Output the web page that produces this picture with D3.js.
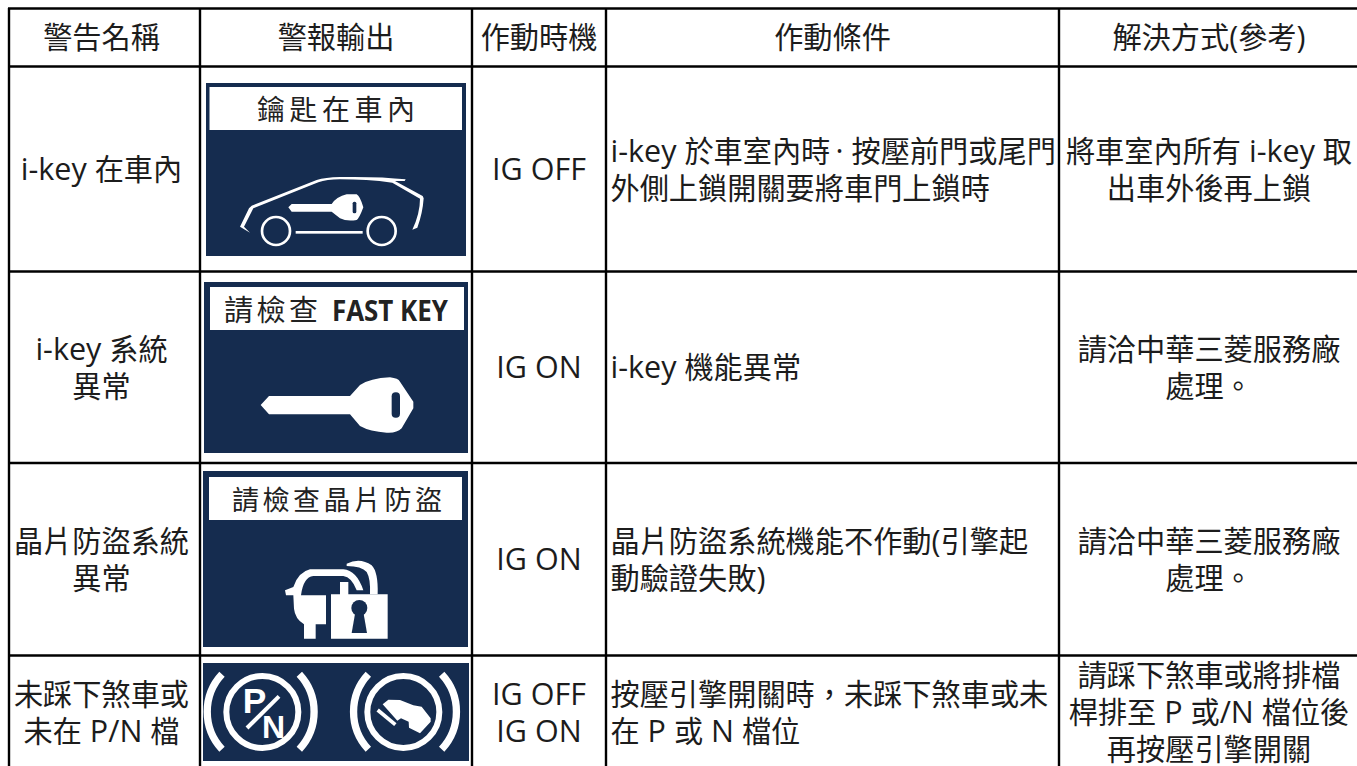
<!DOCTYPE html>
<html lang="zh-TW">
<head>
<meta charset="utf-8">
<script src="https://cdn.jsdelivr.net/npm/d3@7"></script>
<style>
  html, body { margin: 0; padding: 0; background: #fff; overflow: hidden; }
  text { font-family: "Noto Sans CJK TC", sans-serif; }
  tspan.latin { font-family: "Open Sans", sans-serif; font-size: 30.5px; }
</style>
</head>
<body>
<svg width="1357" height="766"></svg>
<script>
// table content
const headers = ["警告名稱", "警報輸出", "作動時機", "作動條件", "解決方式(參考)"];
const warnings = [["i-key 在車內"], ["i-key 系統", "異常"], ["晶片防盜系統", "異常"], ["未踩下煞車或", "未在 P/N 檔"]];
const timings = [["IG OFF"], ["IG ON"], ["IG ON"], ["IG OFF", "IG ON"]];
const conditions = [
  ["i-key 於車室內時\u2009·\u2009\u200a按壓前門或尾門", "外側上鎖開關要將車門上鎖時"],
  ["i-key 機能異常"],
  ["晶片防盜系統機能不作動(引擎起", "動驗證失敗)"],
  ["按壓引擎開關時，未踩下煞車或未", "在 P 或 N 檔位"],
];
const solutions = [
  ["將車室內所有 i-key 取", "出車外後再上鎖"],
  ["請洽中華三菱服務廠", "處理。"],
  ["請洽中華三菱服務廠", "處理。"],
  ["請踩下煞車或將排檔", "桿排至 P 或/N 檔位後", "再按壓引擎開關"],
];
const rowIds = [0, 1, 2, 3];

const NAVY = "#152c4f";
const INK = "#1c1c1c";
const svg = d3.select("svg");

// layout scales, left/top edge of each column and row
const colEdges = [9, 200, 472, 606, 1059, 1359];
const rowEdges = [66.5, 271.5, 463, 655.5, 769];
const xEdge = d3.scaleOrdinal(d3.range(colEdges.length), colEdges);
const yEdge = d3.scaleOrdinal(d3.range(rowEdges.length), rowEdges);
// first column text sits a bit left of the cell center
const colCenter = (i) => (xEdge(i) + xEdge(i + 1)) / 2 - (i === 0 ? 3 : 0);
const rowCenter = (i) => (yEdge(i) + yEdge(i + 1)) / 2;
const LINE_H = 37;
const FONT = 29.2;

// grid
const grid = svg.append("g").attr("stroke", "#000").attr("stroke-width", 2.4);
grid.selectAll(".v").data(colEdges.slice(0, 5)).join("line")
  .attr("x1", (d) => d).attr("x2", (d) => d).attr("y1", 8).attr("y2", 766);
grid.selectAll(".h").data([8.5].concat(rowEdges.slice(0, 4))).join("line")
  .attr("x1", 8).attr("x2", 1357).attr("y1", (d) => d).attr("y2", (d) => d);

// latin runs get their own font and size
function setRuns(sel) {
  sel.each(function (d) {
    d3.select(this).selectAll("tspan").data(d.match(/[\x00-\x7f\u00b7\u2009\u200a]+|[^\x00-\x7f\u00b7\u2009\u200a]+/g)).join("tspan")
      .attr("class", (s) => (/^[\x00-\x7f\u00b7\u2009\u200a]/.test(s) ? "latin" : null))
      .text((s) => s);
  });
}

// header texts
svg.append("g").selectAll("text").data(headers).join("text")
  .attr("x", (d, i) => colCenter(i))
  .attr("y", 48)
  .attr("text-anchor", "middle")
  .attr("font-size", FONT)
  .attr("fill", INK)
  .style("white-space", "pre")
  .call(setRuns);

// one text column, lines stacked around the row center
function textColumn(lines, col, anchor) {
  const x = anchor === "start" ? xEdge(col) + 4.5 : colCenter(col);
  const g = svg.append("g").attr("text-anchor", anchor).attr("font-size", FONT).attr("fill", INK);
  rowIds.forEach((r) => {
    g.selectAll(null).data(lines[r]).join("text")
      .attr("x", x)
      .attr("y", (d, i) => rowCenter(r) + (i - (lines[r].length - 1) / 2) * LINE_H + 11)
      .style("white-space", "pre")
      .call(setRuns);
  });
}
textColumn(warnings, 0, "middle");
textColumn(timings, 2, "middle");
textColumn(conditions, 3, "start");
textColumn(solutions, 4, "middle");

// panel background + white banner
function panel(x, y, w, h) {
  svg.append("rect").attr("x", x).attr("y", y).attr("width", w).attr("height", h).attr("fill", NAVY);
}
function banner(x, y, w, h) {
  svg.append("rect").attr("x", x).attr("y", y).attr("width", w).attr("height", h).attr("fill", "#fff");
}
// icons are traced in 3x crop coordinates, g maps them back
const iconGroup = (x, y) => svg.append("g").attr("transform", `translate(${x},${y}) scale(${1 / 3})`);
const bannerText = (x, y, size, spacing, str) => svg.append("text")
  .attr("x", x).attr("y", y).attr("font-size", size).attr("letter-spacing", spacing)
  .attr("fill", "#222").text(str);

// row 1: car with key
panel(206, 83, 260, 173);
banner(209.5, 87, 252.5, 43);
bannerText(257, 120, 28, 4.5, "鑰匙在車內");
const car = iconGroup(200, 70);
car.append("path").attr("fill", "#fff")
  .attr("d", "M150,488 L120,470 L147,415 L155,407 L350,330 Q375,322 420,321 Q540,319 617,328 L614,333 L585,333 L668,378 L671,385 Q668,430 652,473 L637,479 Q660,430 660,386 L577,338 Q500,328 420,328 Q380,328 355,337 L160,415 L132,470 Z");
car.append("path").attr("fill", "#fff")
  .attr("d", "M265,412 L275,402 L395,402 Q410,380 440,373 L470,373 Q480,378 490,412 Q478,445 470,450 Q440,455 420,445 L395,425 L275,425 Z");
car.append("rect").attr("x", 458).attr("y", 395).attr("width", 11).attr("height", 35).attr("rx", 5).attr("fill", NAVY);
car.selectAll("circle").data([228, 545]).join("circle")
  .attr("cx", (d) => d).attr("cy", 483).attr("r", 42)
  .attr("fill", "none").attr("stroke", "#fff").attr("stroke-width", 8);
car.append("rect").attr("x", 287).attr("y", 483).attr("width", 201).attr("height", 8).attr("fill", "#fff");

// row 2: fast key
panel(204, 282, 264, 171);
banner(210, 287, 254, 43);
bannerText(224, 321, 29, 3.5, "請檢查");
svg.append("text").attr("x", 332).attr("y", 321).attr("font-size", 29).attr("font-weight", 700)
  .attr("textLength", 116).attr("lengthAdjust", "spacingAndGlyphs").attr("fill", "#222")
  .style("font-family", "'Open Sans'").text("FAST KEY");
const key = iconGroup(200, 270);
key.append("path").attr("fill", "#fff")
  .attr("d", "M182,405 L207,378 L450,378 L480,345 Q510,325 570,322 Q595,325 600,335 L640,395 L640,415 L605,475 Q590,490 560,488 Q510,485 480,468 L450,433 L207,433 Z");
key.append("rect").attr("x", 575).attr("y", 367).attr("width", 25).attr("height", 76).attr("rx", 12).attr("fill", NAVY);

// row 3: immobilizer
panel(203, 471, 265, 176);
banner(209, 477, 253, 43);
bannerText(232, 510, 27, 3.5, "請檢查晶片防盜");
const lock = iconGroup(200, 462);
lock.append("path").attr("fill", "#fff")
  .attr("d", "M255,385 L280,375 Q295,330 330,322 L430,322 Q470,325 490,385 L470,385 Q455,345 430,342 L340,342 Q310,345 303,400 L378,400 L378,487 L347,487 L347,530 L312,530 L312,487 Q285,470 282,440 L280,400 L258,400 Z");
lock.append("path").attr("fill", "#fff")
  .attr("d", "M440,305 Q480,285 515,310 Q535,330 533,397 L510,397 Q512,350 500,330 Q485,312 440,312 Z");
lock.append("path").attr("fill", "#fff")
  .attr("d", "M393,397 L420,397 L420,360 L445,360 L445,397 L563,397 L563,530 L393,530 Z");
lock.append("circle").attr("cx", 478).attr("cy", 438).attr("r", 24).attr("fill", NAVY);
lock.append("path").attr("fill", NAVY).attr("d", "M466,450 L490,450 L501,513 L455,513 Z");

// row 4: brake lamps
panel(203, 663, 266, 98);
const lamps = iconGroup(200, 650);
const brackets = [
  "M66,73 A165,165 0 0 0 66,298", "M298,73 A165,165 0 0 1 298,298",
  "M505,73 A165,165 0 0 0 505,298", "M725,73 A165,165 0 0 1 725,298",
];
lamps.selectAll("path.bracket").data(brackets).join("path")
  .attr("class", "bracket").attr("d", (d) => d)
  .attr("fill", "none").attr("stroke", "#fff").attr("stroke-width", 22);
lamps.selectAll("circle").data([187, 610]).join("circle")
  .attr("cx", (d) => d).attr("cy", 186).attr("r", 108)
  .attr("fill", "none").attr("stroke", "#fff").attr("stroke-width", 18);
lamps.append("line").attr("x1", 141).attr("y1", 234).attr("x2", 237).attr("y2", 139)
  .attr("stroke", "#fff").attr("stroke-width", 12);
lamps.append("text").attr("x", 128).attr("y", 190).attr("font-size", 106).attr("font-weight", 700)
  .attr("fill", "#fff").style("font-family", "'Liberation Sans'").text("P");
lamps.append("text").attr("x", 186).attr("y", 263).attr("font-size", 96).attr("font-weight", 700)
  .attr("fill", "#fff").style("font-family", "'Liberation Sans'").text("N");
lamps.append("path").attr("fill", "#fff")
  .attr("d", "M548,163 L565,149 L600,150 L640,166 L665,170 L692,205 L692,215 L660,250 L627,233 L626,215 L603,205 L592,212 Z");
lamps.append("path").attr("fill", "none").attr("stroke", "#fff").attr("stroke-width", 11)
  .attr("d", "M533,180 L586,224");
</script>
</body>
</html>
